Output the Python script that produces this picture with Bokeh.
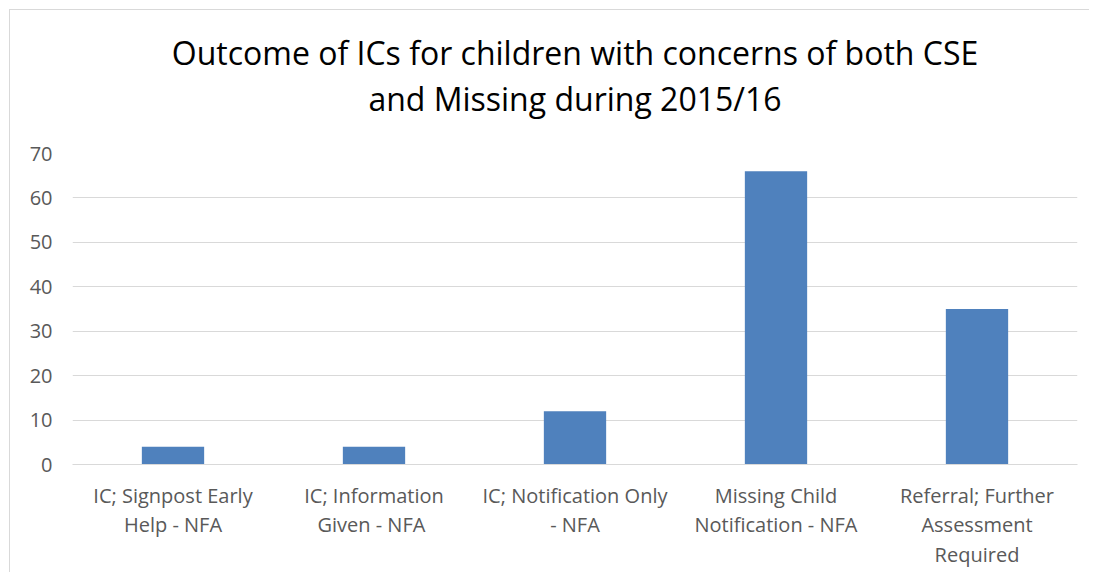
from bokeh.plotting import figure
from bokeh.models import ColumnDataSource, Title, Range1d, FactorRange, SingleIntervalTicker
from bokeh.embed import file_html
from bokeh.resources import INLINE

categories = [
    "IC; Signpost Early\nHelp - NFA",
    "IC; Information\nGiven  - NFA",
    "IC; Notification Only\n- NFA",
    "Missing Child\nNotification - NFA",
    "Referral; Further\nAssessment\nRequired",
]
values = [4, 4, 12, 66, 35]
title_lines = ["Outcome of ICs for children with concerns of both CSE", "and Missing during 2015/16"]

source = ColumnDataSource(dict(cat=categories, val=values))

FONT = "Open Sans"
GREY = "#595959"

p = figure(
    width=1080, height=563,
    x_range=FactorRange(*categories, range_padding=0),
    y_range=Range1d(0, 70),
    output_backend="svg", toolbar_location=None,
    min_border_left=62, min_border_right=13, min_border_top=143, min_border_bottom=109,
    title=None,
)
p.styles = {"border-left": "1px solid #d9d9d9", "border-top": "1px solid #d9d9d9",
            "margin-left": "9px", "margin-top": "9px"}

t2 = Title(text=title_lines[1], align="center", text_font=FONT, text_font_size="32px",
           text_font_style="normal", text_color="#000000", standoff=68, offset=-19)
t1 = Title(text=title_lines[0], align="center", text_font=FONT, text_font_size="32px",
           text_font_style="normal", text_color="#000000", standoff=-66, offset=-19)
p.add_layout(t2, "above")
p.add_layout(t1, "above")

p.vbar(x="cat", top="val", width=0.31, source=source, fill_color="#4f81bd", line_color=None)

p.outline_line_color = None
p.background_fill_color = "white"
p.border_fill_color = "white"

p.xgrid.grid_line_color = None
p.ygrid.grid_line_color = "#d9d9d9"
p.ygrid.grid_line_width = 1

p.yaxis.ticker = SingleIntervalTicker(interval=10)
p.yaxis.axis_line_color = None
p.yaxis.major_tick_line_color = None
p.yaxis.minor_tick_line_color = None
p.yaxis.major_label_text_font = FONT
p.yaxis.major_label_text_font_size = "20px"
p.yaxis.major_label_text_color = GREY
p.yaxis.major_label_standoff = 14

p.xaxis.axis_line_color = "#d9d9d9"
p.xaxis.major_tick_line_color = None
p.xaxis.minor_tick_line_color = None
p.xaxis.major_label_text_font = FONT
p.xaxis.major_label_text_font_size = "20px"
p.xaxis.major_label_text_color = GREY
p.xaxis.major_label_text_line_height = 1.1
p.xaxis.major_label_standoff = 11
p.xaxis.major_label_orientation = "horizontal"

open("out.html", "w").write(file_html(p, INLINE))
